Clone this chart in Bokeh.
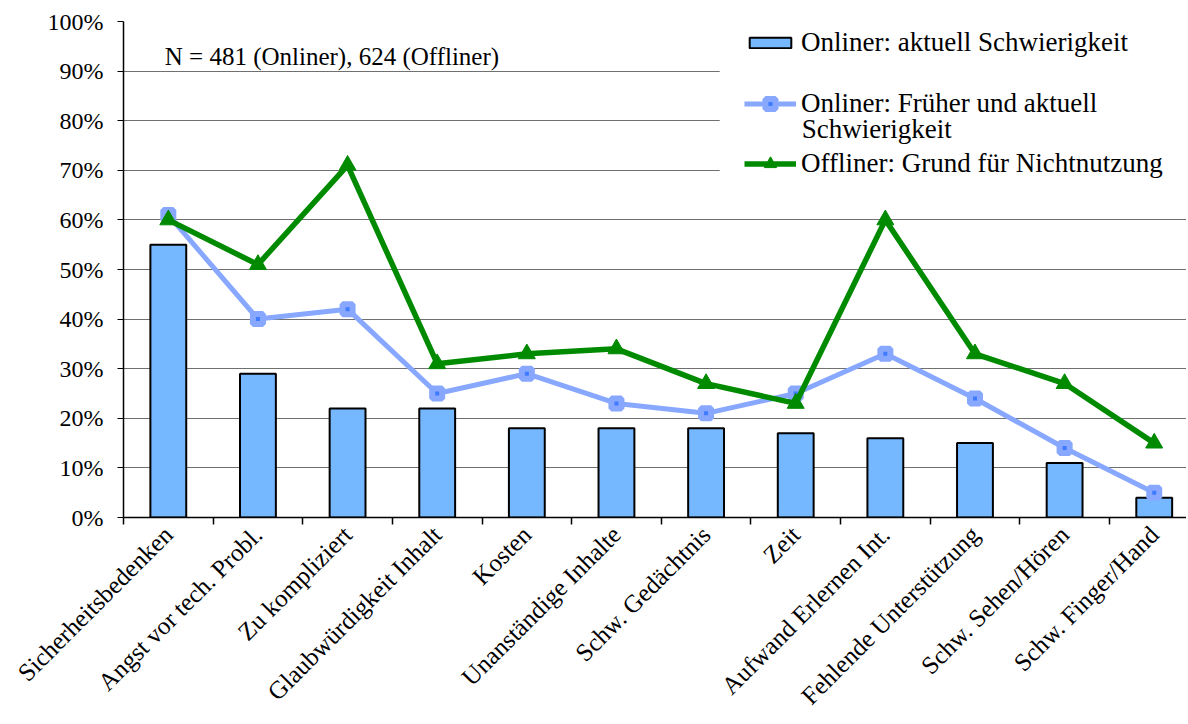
from bokeh.plotting import figure
from bokeh.models import (Range1d, FixedTicker, ColumnDataSource, Legend, LegendItem,
                          Label, BoxAnnotation)
from bokeh.embed import file_html
from bokeh.resources import INLINE
import math

categories = ["Sicherheitsbedenken", "Angst vor tech. Probl.", "Zu kompliziert",
              "Glaubwürdigkeit Inhalt", "Kosten", "Unanständige Inhalte",
              "Schw. Gedächtnis", "Zeit", "Aufwand Erlernen Int.",
              "Fehlende Unterstützung", "Schw. Sehen/Hören", "Schw. Finger/Hand"]
onliner_aktuell = [55, 29, 22, 22, 18, 18, 18, 17, 16, 15, 11, 4]
onliner_frueher = [61, 40, 42, 25, 29, 23, 21, 25, 33, 24, 14, 5]
offliner_grund = [60, 51, 71, 31, 33, 34, 27, 23, 60, 33, 27, 15]
y_ticks = [0, 10, 20, 30, 40, 50, 60, 70, 80, 90, 100]
note = "N = 481 (Onliner), 624 (Offliner)"

FONT = "Liberation Serif"
n = len(categories)
xc = [i + 0.5 for i in range(n)]
bounds = list(range(n + 1))

src = ColumnDataSource(dict(x=xc, a=onliner_aktuell, f=onliner_frueher, o=offliner_grund))

p = figure(width=1186, height=722, output_backend="svg", toolbar_location=None,
           x_range=Range1d(0, 11.86), y_range=Range1d(0, 100),
           min_border_left=123, min_border_right=0, min_border_top=21,
           min_border_bottom=205)
p.outline_line_color = None
p.background_fill_color = "white"
p.border_fill_color = "white"

# y axis
p.yaxis.ticker = FixedTicker(ticks=y_ticks)
p.yaxis.major_label_overrides = {v: f"{v}%" for v in y_ticks}
p.yaxis.major_label_text_font = FONT
p.yaxis.major_label_text_font_size = "24px"
p.yaxis.major_label_text_color = "black"
p.yaxis.major_tick_in = 0
p.yaxis.major_tick_out = 6
p.yaxis.minor_tick_line_color = None
p.yaxis.axis_line_color = "black"
p.yaxis.axis_line_width = 1.5
p.yaxis.major_tick_line_color = "black"
p.yaxis.major_label_standoff = 14

# x axis: labels at category centres, ticks at category boundaries
p.xaxis.ticker = FixedTicker(ticks=xc, minor_ticks=bounds)
p.xaxis.major_label_overrides = {v: c for v, c in zip(xc, categories)}
p.xaxis.major_label_orientation = math.pi / 4
p.xaxis.major_label_text_font = FONT
p.xaxis.major_label_text_font_size = "25px"
p.xaxis.major_label_text_color = "black"
p.xaxis.major_tick_in = 0
p.xaxis.major_tick_out = 0
p.xaxis.minor_tick_in = 0
p.xaxis.minor_tick_out = 7
p.xaxis.minor_tick_line_color = "black"
p.xaxis.minor_tick_line_width = 1.5
p.xaxis.axis_line_color = "black"
p.xaxis.axis_line_width = 1.5
p.xaxis.major_label_standoff = 6

p.xgrid.grid_line_color = None
p.ygrid.grid_line_color = "#707070"
p.ygrid.grid_line_width = 1.2

bars = p.vbar(x="x", top="a", width=0.4, source=src, fill_color="#75B8FF",
              line_color="black", line_width=2)

l1 = p.line("x", "f", source=src, line_color="#88A8FF", line_width=5)
m1 = p.scatter("x", "f", source=src, marker="square", size=10, fill_color="#3F7BFF",
               line_color="#88A8FF", line_width=6)

l2 = p.line("x", "o", source=src, line_color="#008A00", line_width=5.5)
m2 = p.scatter("x", "o", source=src, marker="triangle", size=17, fill_color="#008A00",
               line_color="#008A00", line_width=1)

# white area behind the legend
box = BoxAnnotation(left=6.652, right=20, top=99.6, bottom=66, fill_color="white",
                    fill_alpha=1, line_color=None)
p.add_layout(box)

p.add_layout(Label(x=0.46, y=93, text=note, text_font=FONT, text_font_size="25px",
                   text_baseline="middle", text_color="black"))


def mk_legend(items, loc, gh):
    lg = Legend(items=items, location=loc, orientation="vertical")
    lg.background_fill_alpha = 0
    lg.border_line_color = None
    lg.padding = 0
    lg.margin = 0
    lg.spacing = 0
    lg.glyph_width = 52
    lg.glyph_height = gh
    lg.label_standoff = 5
    lg.label_height = 24
    lg.label_text_font = FONT
    lg.label_text_font_size = "27px"
    lg.label_text_color = "black"
    p.add_layout(lg)
    return lg


mk_legend([LegendItem(label="Onliner: aktuell Schwierigkeit", renderers=[bars])], (621, 459), 13)
mk_legend([LegendItem(label="Onliner: Früher und aktuell", renderers=[l1, m1])], (621, 398), 25)
mk_legend([LegendItem(label="Offliner: Grund für Nichtnutzung", renderers=[l2, m2])], (621, 338), 31)
p.add_layout(Label(x=7.567, y=78.4, text="Schwierigkeit", text_font=FONT,
                   text_font_size="27px", text_baseline="middle", text_color="black"))

open("out.html", "w").write(file_html(p, INLINE))
